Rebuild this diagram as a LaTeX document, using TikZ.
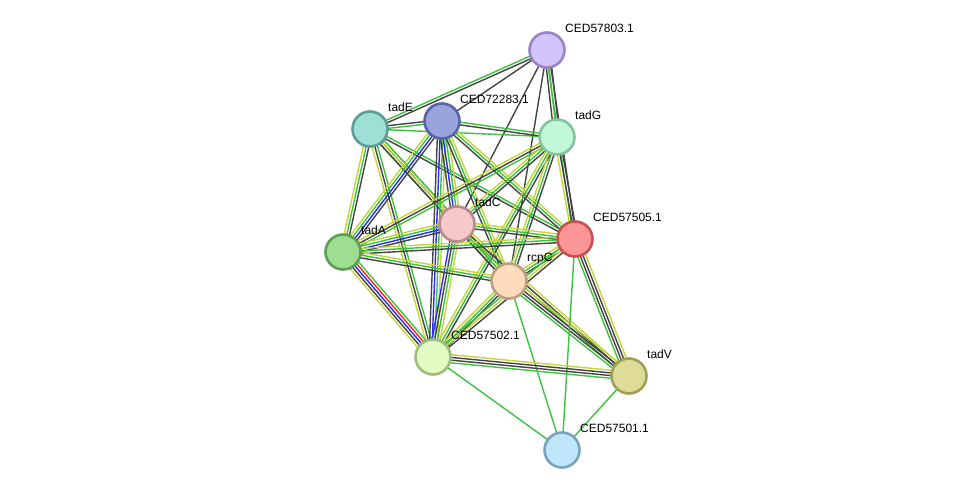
\documentclass[tikz,border=0pt]{standalone}
\usepackage{fontspec}
\setmainfont{Liberation Sans}
\usetikzlibrary{calc}
\pgfdeclarelayer{bg}\pgfsetlayers{bg,main}
\definecolor{G}{HTML}{3CC23C}
\definecolor{Y}{HTML}{C4D43A}
\definecolor{K}{HTML}{444444}
\definecolor{B}{HTML}{2A2AF0}
\definecolor{R}{HTML}{F02A2A}
\definecolor{dA}{HTML}{9A82C8}\definecolor{fA}{HTML}{D4C4FC}
\definecolor{dE}{HTML}{5B9E95}\definecolor{fE}{HTML}{9EE0D6}
\definecolor{dX}{HTML}{5864A8}\definecolor{fX}{HTML}{9AA4DC}
\definecolor{dG}{HTML}{82C4A0}\definecolor{fG}{HTML}{C0F8D8}
\definecolor{dC}{HTML}{B88C8C}\definecolor{fC}{HTML}{F6C8C8}
\definecolor{dF}{HTML}{C85050}\definecolor{fF}{HTML}{FC9696}
\definecolor{dT}{HTML}{5E9E56}\definecolor{fT}{HTML}{9EDE90}
\definecolor{dP}{HTML}{BCA080}\definecolor{fP}{HTML}{FCDCBC}
\definecolor{dQ}{HTML}{A0BC80}\definecolor{fQ}{HTML}{E2FCC4}
\definecolor{dV}{HTML}{A0A058}\definecolor{fV}{HTML}{DEDC98}
\definecolor{dW}{HTML}{78A4BC}\definecolor{fW}{HTML}{C0E6FC}
\newcommand\lnk[4]{%
  \foreach \c [count=\i] in {#4} {%
    \pgfmathsetlengthmacro\off{(\i-(#3+1)/2)*2.7pt}%
    \draw[\c, line width=1.4pt] ($(#1)!\off!90:(#2)$) -- ($(#2)!\off!-90:(#1)$);
  }}
\tikzset{
  prot/.style 2 args={circle, draw=#1, fill=#2, line width=2.6pt, minimum size=35pt, inner sep=0pt},
  lbl/.style={anchor=west, inner sep=0pt, font=\fontsize{12}{14}\selectfont, text=black}
}
\begin{document}
\begin{tikzpicture}[x=1pt,y=-1pt]
\useasboundingbox (0,0) rectangle (976,496);
\node[prot={dA}{fA}] (A) at (547,50) {};
\node[prot={dE}{fE}] (E) at (370,129) {};
\node[prot={dX}{fX}] (X) at (442,121) {};
\node[prot={dG}{fG}] (Gn) at (557,137) {};
\node[prot={dC}{fC}] (C) at (457,224) {};
\node[prot={dF}{fF}] (F) at (575,239) {};
\node[prot={dT}{fT}] (T) at (343,252) {};
\node[prot={dP}{fP}] (P) at (509,281) {};
\node[prot={dQ}{fQ}] (Q) at (433,357) {};
\node[prot={dV}{fV}] (V) at (629,376) {};
\node[prot={dW}{fW}] (W) at (562,450) {};

\node[lbl] (lA) at ($(A)+(18,-22)$) {CED57803.1};
\node[lbl] (lE) at ($(E)+(18,-22)$) {tadE};
\node[lbl] (lX) at ($(X)+(18,-22)$) {CED72283.1};
\node[lbl] (lG) at ($(Gn)+(18,-22)$) {tadG};
\node[lbl] (lC) at ($(C)+(18,-22)$) {tadC};
\node[lbl] (lF) at ($(F)+(18,-22)$) {CED57505.1};
\node[lbl] (lT) at ($(T)+(18,-22)$) {tadA};
\node[lbl] (lP) at ($(P)+(18,-22)$) {rcpC};
\node[lbl] (lQ) at ($(Q)+(18,-22)$) {CED57502.1};
\node[lbl] (lV) at ($(V)+(18,-22)$) {tadV};
\node[lbl] (lW) at ($(W)+(18,-22)$) {CED57501.1};

\begin{pgfonlayer}{bg}
\lnk{A}{E}{2}{G,K}
\lnk{A}{X}{1}{K}
\lnk{A}{Gn}{3}{K,G,K}
\lnk{A}{C}{1}{K}
\lnk{A}{P}{1}{K}
\lnk{A}{F}{2}{G,K}
\lnk{E}{X}{2}{G,K}
\lnk{E}{Gn}{1}{G}
\lnk{E}{T}{3}{Y,G,K}
\lnk{E}{Q}{3}{Y,K,G}
\lnk{E}{C}{3}{G,K,Y}
\lnk{E}{P}{3}{K,Y,G}
\lnk{E}{F}{2}{K,G}
\lnk{X}{Gn}{2}{K,G}
\lnk{X}{T}{4}{Y,G,B,K}
\lnk{X}{Q}{4}{K,B,G,Y}
\lnk{X}{C}{4}{K,B,G,Y}
\lnk{X}{P}{3}{K,G,Y}
\lnk{X}{F}{3}{K,G,Y}
\lnk{Gn}{T}{3}{Y,K,G}
\lnk{Gn}{C}{3}{Y,G,K}
\lnk{Gn}{Q}{3}{Y,G,K}
\lnk{Gn}{P}{3}{Y,G,K}
\lnk{Gn}{F}{3}{Y,K,K}
\lnk{C}{T}{4}{Y,G,B,K}
\lnk{C}{Q}{4}{B,K,G,Y}
\lnk{C}{P}{3}{K,G,Y}
\lnk{C}{F}{3}{K,G,Y}
\lnk{C}{V}{3}{G,K,Y}
\lnk{T}{F}{3}{K,G,Y}
\lnk{T}{P}{3}{K,G,Y}
\lnk{T}{Q}{5}{Y,K,B,R,G}
\lnk{P}{F}{3}{K,G,Y}
\lnk{P}{Q}{3}{Y,G,K}
\lnk{P}{V}{4}{G,K,K,Y}
\lnk{P}{W}{1}{G}
\lnk{F}{V}{4}{G,K,K,Y}
\lnk{F}{W}{1}{G}
\lnk{F}{Q}{3}{G,Y,K}
\lnk{Q}{V}{4}{G,K,K,Y}
\lnk{Q}{W}{1}{G}
\lnk{V}{W}{1}{G}
\end{pgfonlayer}
\end{tikzpicture}
\end{document}
